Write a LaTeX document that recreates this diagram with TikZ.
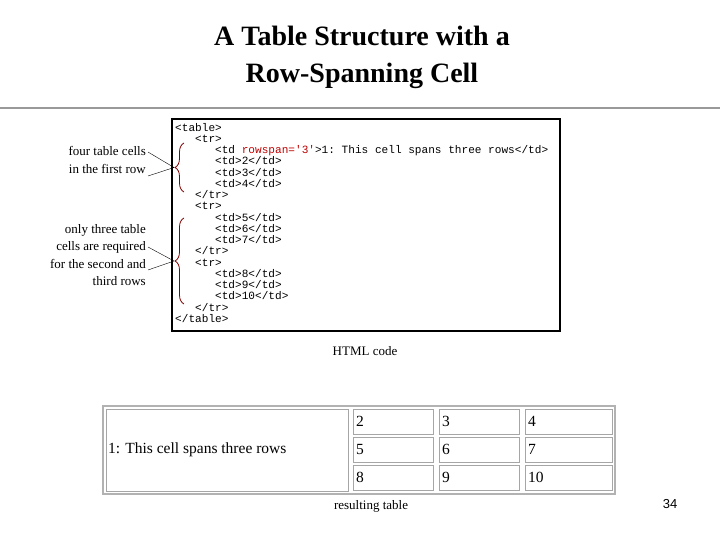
\documentclass[tikz,border=0pt]{standalone}
\usepackage{fontspec}
\setmainfont{Liberation Serif}
\setmonofont{Liberation Mono}
\setsansfont{Liberation Sans}
\usetikzlibrary{positioning,decorations.pathreplacing}

\newcommand{\ind}[1]{\phantom{#1}}

\begin{document}
\begin{tikzpicture}[
        x=1pt, y=-1pt,
        every node/.style={inner sep=0pt, align=center},
        label/.style={font=\fontsize{13}{17.5}\selectfont, align=right, anchor=east},
        cell/.style={draw=gray!70, line width=1.2pt, anchor=north west, minimum height=25pt},
        num/.style={font=\fontsize{15.5}{15.5}\selectfont, anchor=west},
        brace/.style={draw=red!50!black, thick, decorate, decoration={brace, amplitude=9pt}},
        pointer/.style={draw=black, thin}
    ]
    \useasboundingbox (0,0) rectangle (720,540);

    % Title
    \node (title) [font=\fontsize{28}{37}\selectfont\bfseries] at (362,57) {A Table Structure with a\\Row-Spanning Cell};
    \draw[gray!80, line width=2pt] (0,108) -- (720,108);

    % Code box
    \draw[line width=2pt] (172,119) rectangle (560,331);
    \node (code) [anchor=north west, align=left, font=\fontsize{11.1}{11.25}\selectfont\ttfamily] at (175,123) {%
        <table>\\
        \ind{xxx}<tr>\\
        \ind{xxxxxx}<td \textcolor{red!75!black}{rowspan='3'}>1: This cell spans three rows</td>\\
        \ind{xxxxxx}<td>2</td>\\
        \ind{xxxxxx}<td>3</td>\\
        \ind{xxxxxx}<td>4</td>\\
        \ind{xxx}</tr>\\
        \ind{xxx}<tr>\\
        \ind{xxxxxx}<td>5</td>\\
        \ind{xxxxxx}<td>6</td>\\
        \ind{xxxxxx}<td>7</td>\\
        \ind{xxx}</tr>\\
        \ind{xxx}<tr>\\
        \ind{xxxxxx}<td>8</td>\\
        \ind{xxxxxx}<td>9</td>\\
        \ind{xxxxxx}<td>10</td>\\
        \ind{xxx}</tr>\\
        </table>};

    % Braces
    \coordinate (b1top) at (184,143);
    \coordinate (b1bot) at (184,192);
    \coordinate (b2top) at (184,218);
    \coordinate (b2bot) at (184,304);
    \coordinate (tip1) at (174,167.5);
    \coordinate (tip2) at (174,261);
    \draw[brace] (b1bot) -- (b1top);
    \draw[brace] (b2bot) -- (b2top);

    % Labels
    \node (first) [label] at (146,160) {four table cells\\in the first row};
    \node (rest) [label] at (146,255) {only three table\\cells are required\\for the second and\\third rows};
    \draw[pointer] (148,152) -- (tip1) -- (148,176);
    \draw[pointer] (148,247) -- (tip2) -- (148,270);

    \node (htmlcap) [font=\fontsize{13}{13}\selectfont] at (365,351) {HTML code};

    % Resulting table
    \draw[gray!60, line width=1.2pt] (103,406) rectangle (615,494);
    \node (span) [cell, minimum width=242pt, minimum height=82pt] at (106,409) {};
    \node (spantext) [num] at (108,450) {1: This cell spans three rows};
    \foreach \n [count=\i from 0] in {2,3,4,5,6,7,8,9,10} {
        \pgfmathtruncatemacro{\c}{mod(\i,3)}
        \pgfmathtruncatemacro{\r}{div(\i,3)}
        \pgfmathsetmacro{\cx}{{353,439,525}[\c]}
        \pgfmathsetmacro{\cw}{{80,80,87}[\c]}
        \node (c\n) [cell, minimum width=\cw pt] at (\cx,409+28*\r) {};
        \node (t\n) [num] at (\cx+3,421.5+28*\r) {\n};
    }

    \node (tablecap) [font=\fontsize{13}{13}\selectfont] at (371,506) {resulting table};
    \node (page) [font=\sffamily\fontsize{13}{13}\selectfont] at (670,504) {34};
\end{tikzpicture}
\end{document}
